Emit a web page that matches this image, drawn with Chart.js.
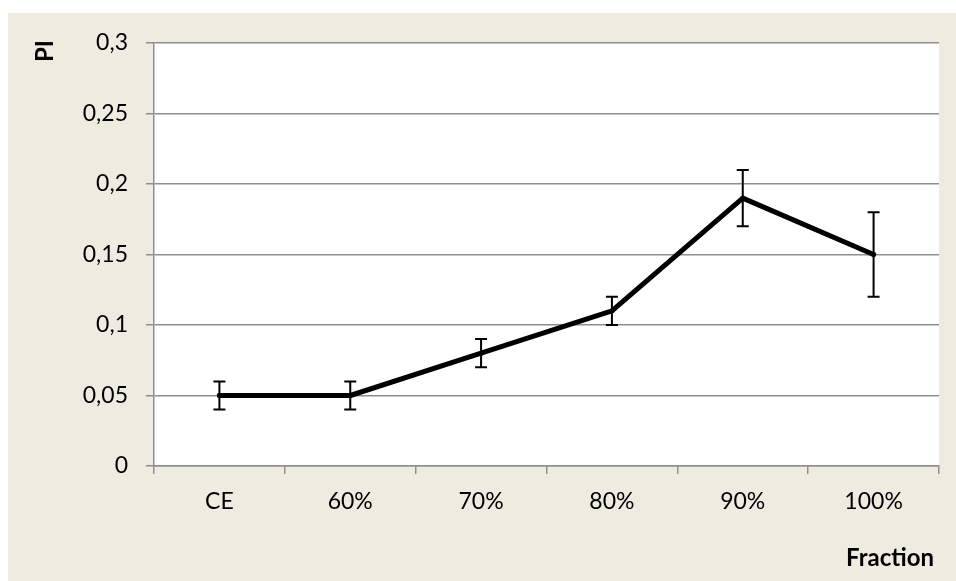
<!DOCTYPE html>
<html>
<head>
<meta charset="utf-8">
<script src="https://cdn.jsdelivr.net/npm/chart.js@4/dist/chart.umd.min.js"></script>
<style>
  html, body { margin: 0; padding: 0; background: #ffffff; }
  #wrap { width: 956px; height: 581px; position: relative; }
</style>
</head>
<body>
<div id="wrap"><canvas id="c" width="956" height="581"></canvas></div>
<script>
// PI by fraction, with error margins
const categories = ['CE', '60%', '70%', '80%', '90%', '100%'];
const piValues = [0.05, 0.05, 0.08, 0.11, 0.19, 0.15];
const piErrors = [0.01, 0.01, 0.01, 0.01, 0.02, 0.03];
const yTickLabels = ['0', '0,05', '0,1', '0,15', '0,2', '0,25', '0,3'];
const yAxisTitle = 'PI';
const xAxisTitle = 'Fraction';

const BEIGE = '#EEECE1';
const GRID = '#8f8f8f';
const TICK_FONT = { family: 'Lato', size: 23 };
const TITLE_FONT = "bold 24px Lato";

// Panel background and white plot area
const backgroundPlugin = {
  id: 'panelBackground',
  beforeDraw(chart) {
    const { ctx, chartArea } = chart;
    ctx.save();
    ctx.fillStyle = BEIGE;
    ctx.fillRect(8, 13, chart.width - 8, chart.height - 13);
    ctx.fillStyle = '#ffffff';
    ctx.fillRect(chartArea.left, chartArea.top, chartArea.right - chartArea.left, chartArea.bottom - chartArea.top);
    ctx.restore();
  }
};

// Vertical error bars with caps, placed through the chart's scales
const errorBarPlugin = {
  id: 'errorBars',
  afterDatasetsDraw(chart) {
    const { ctx } = chart;
    const xs = chart.scales.x, ys = chart.scales.y;
    ctx.save();
    ctx.strokeStyle = '#000000';
    ctx.lineWidth = 2;
    piValues.forEach((v, i) => {
      const x = xs.getPixelForValue(i);
      const yHi = ys.getPixelForValue(v + piErrors[i]);
      const yLo = ys.getPixelForValue(v - piErrors[i]);
      const cap = 6;
      ctx.beginPath();
      ctx.moveTo(x, yHi); ctx.lineTo(x, yLo);
      ctx.moveTo(x - cap, yHi); ctx.lineTo(x + cap, yHi);
      ctx.moveTo(x - cap, yLo); ctx.lineTo(x + cap, yLo);
      ctx.stroke();
    });
    ctx.restore();
  }
};

// Axis titles: rotated PI at top-left, Fraction at bottom-right
const axisTitlePlugin = {
  id: 'axisTitles',
  afterDraw(chart) {
    const { ctx, chartArea } = chart;
    ctx.save();
    ctx.fillStyle = '#000000';
    ctx.font = TITLE_FONT;
    ctx.textAlign = 'center';
    ctx.textBaseline = 'middle';
    ctx.save();
    ctx.translate(45, chartArea.top + 8);
    ctx.rotate(-Math.PI / 2);
    ctx.fillText(yAxisTitle, 0, 0);
    ctx.restore();
    ctx.fillText(xAxisTitle, 890, 558);
    ctx.restore();
  }
};

new Chart(document.getElementById('c'), {
  type: 'line',
  data: {
    labels: categories,
    datasets: [{
      data: piValues,
      borderColor: '#000000',
      backgroundColor: '#000000',
      borderWidth: 5,
      borderCapStyle: 'round',
      borderJoinStyle: 'round',
      pointRadius: 2.5,
      pointHoverRadius: 2.5,
      pointBorderWidth: 0,
      tension: 0,
      fill: false
    }]
  },
  options: {
    responsive: false,
    animation: false,
    devicePixelRatio: 1,
    layout: { padding: { top: 43, right: 17, bottom: 0, left: 0 } },
    plugins: {
      legend: { display: false },
      tooltip: { enabled: false },
      title: { display: false }
    },
    scales: {
      x: {
        type: 'category',
        offset: true,
        grid: {
          offset: true,
          drawOnChartArea: false,
          drawTicks: true,
          tickLength: 8,
          color: GRID,
          lineWidth: 1.5
        },
        border: { display: true, color: GRID, width: 1.5 },
        ticks: {
          color: '#000000',
          font: TICK_FONT,
          padding: 14,
          maxRotation: 0,
          autoSkip: false
        },
        afterFit(scale) { scale.height = 115; }
      },
      y: {
        min: 0,
        max: 0.3,
        grid: {
          drawOnChartArea: true,
          drawTicks: true,
          tickLength: 8,
          color: GRID,
          lineWidth: 1.5
        },
        border: { display: true, color: GRID, width: 1.5 },
        ticks: {
          stepSize: 0.05,
          color: '#000000',
          font: TICK_FONT,
          padding: 18,
          callback: (value, index) => yTickLabels[index]
        },
        afterFit(scale) { scale.width = 154; }
      }
    }
  },
  plugins: [backgroundPlugin, errorBarPlugin, axisTitlePlugin]
});
</script>
</body>
</html>
